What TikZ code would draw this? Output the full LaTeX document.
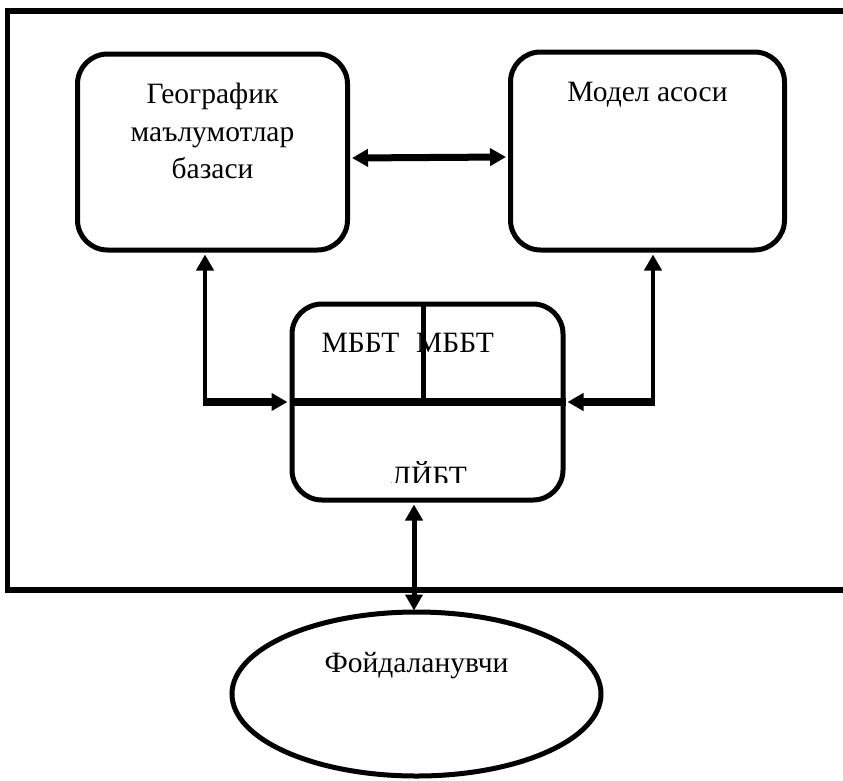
\documentclass[tikz,border=0pt]{standalone}
\usepackage{fontspec}
\setmainfont{Liberation Serif}
\usetikzlibrary{arrows.meta,shapes.geometric,calc}
\begin{document}
\begin{tikzpicture}[x=1pt,y=-1pt,
  box/.style={draw,line width=5pt,rounded corners=30pt,inner sep=0pt},
  lbl/.style={font=\fontsize{29.5}{37.5}\selectfont,inner sep=0pt},
  tipA/.style={-{Triangle[length=16pt,width=17pt]}},
  tipB/.style={{Triangle[length=16pt,width=17pt]}-{Triangle[length=16pt,width=17pt]}}]
\useasboundingbox (0,0) rectangle (843,780);
% outer frame
\draw[line width=5.5pt] (860,11) -- (7.5,11) -- (7.5,590) -- (860,590);
% boxes
\node[box,minimum width=270pt,minimum height=196pt] (L) at (212.5,152) {};
\node[box,minimum width=274pt,minimum height=198pt] (R) at (647.5,151) {};
\node[box,minimum width=271pt,minimum height=196pt] (M) at (427.5,402) {};
\node[draw,ellipse,line width=5pt,inner sep=0pt,minimum width=369pt,minimum height=164pt] (E) at (416.5,694) {};
% texts
\node[lbl,align=center] (Lt) at (212.5,131) {Географик\\маълумотлар\\базаси};
\node[lbl,anchor=base] (Rt) at (647.5,101) {Модел асоси};
\node[lbl,anchor=base] (M1) at (360.5,352) {МББТ};
\node[lbl,anchor=base] (M2) at (455,352) {МББТ};
\begin{scope}
\clip (292,300) rectangle (563,482);
\node[lbl,anchor=base] (M3) at (429,486) {ЛЙБТ};
\end{scope}
\node[lbl,anchor=base] (Et) at (416.5,672) {Фойдаланувчи};
% divider and bus
\coordinate (hl) at (205,402);
\coordinate (hr) at (653,402);
\coordinate (dv) at (423,402);
\draw[line width=5pt] (dv) -- (dv |- M.north);
\draw[line width=8pt] (M.west) -- (M.east);
\draw[line width=8pt,tipA] ([xshift=-2pt]hl) -- ([xshift=-2pt]M.west);
\draw[line width=8pt,tipA] ([xshift=2pt]hr) -- ([xshift=2pt]M.east);
\draw[line width=4.5pt,tipA] ([yshift=4pt]hl) -- ($(hl |- L.south)+(0,2)$);
\draw[line width=4.5pt,tipA] ([yshift=4pt]hr) -- ($(hr |- R.south)+(0,2)$);
% top double arrow
\draw[line width=7pt,tipB] ($(L.east)+(2,6)$) -- ($(R.west)+(-2,6)$);
% bottom double arrow
\coordinate (bx) at (414,0);
\draw[line width=5pt,tipB] ($(bx |- M.south)+(0,2)$) -- ($(bx |- E.north)+(0,1)$);
\end{tikzpicture}
\end{document}
